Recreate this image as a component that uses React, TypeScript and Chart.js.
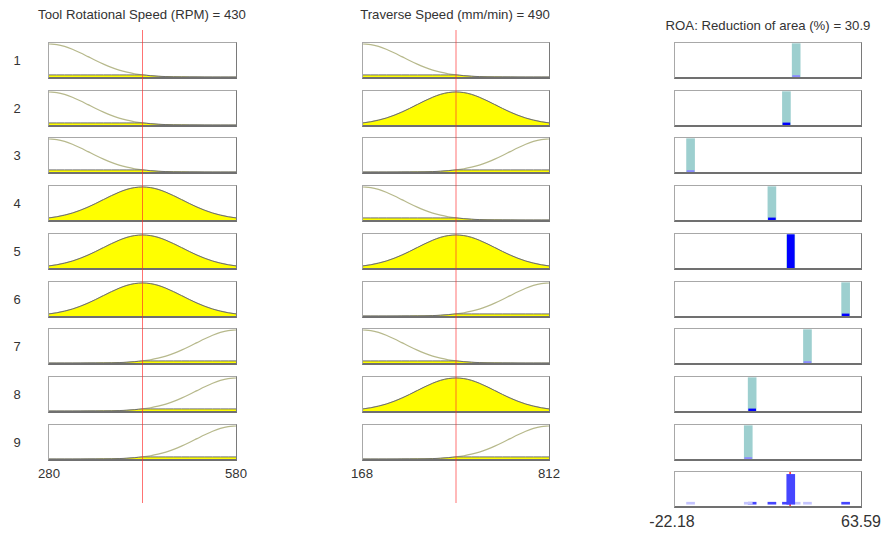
import React, { useEffect, useRef } from "react";
import { Chart, registerables } from "chart.js";
Chart.register(...registerables);

// ---------- data ----------
const RPM_NAME = "Tool Rotational Speed (RPM)";
const TRAV_NAME = "Traverse Speed (mm/min)";
const ROA_NAME = "ROA: Reduction of area (%)";
const RPM_RANGE = [280, 580];
const TRAV_RANGE = [168, 812];
const ROA_RANGE = [-22.18, 63.59];
const RPM_INPUT = 430;
const TRAV_INPUT = 490;
const ROA_OUTPUT = 30.9;
const RPM_TICKS = ["280", "580"];
const TRAV_TICKS = ["168", "812"];
const ROA_TICKS = ["-22.18", "63.59"];

// membership values of the low / mid / high MFs, sampled at 25 evenly spaced points over each input range
const MF_LOW = [1, 0.981, 0.926, 0.841, 0.735, 0.618, 0.5, 0.389, 0.292, 0.21, 0.146, 0.097, 0.0625, 0.039, 0.023, 0.013, 0.007, 0.004, 0.002, 0.001, 0.0005, 0, 0, 0, 0];
const MF_MID = [0.0625, 0.097, 0.146, 0.21, 0.292, 0.389, 0.5, 0.618, 0.735, 0.841, 0.926, 0.981, 1, 0.981, 0.926, 0.841, 0.735, 0.618, 0.5, 0.389, 0.292, 0.21, 0.146, 0.097, 0.0625];
const MF_HIGH = [0, 0, 0, 0, 0.0005, 0.001, 0.002, 0.004, 0.007, 0.013, 0.023, 0.039, 0.0625, 0.097, 0.146, 0.21, 0.292, 0.389, 0.5, 0.618, 0.735, 0.841, 0.926, 0.981, 1];
const MFS = [MF_LOW, MF_MID, MF_HIGH];

// membership degree of the current input in low / mid / high
const RPM_LEVEL = [0.0625, 1, 0.0625];
const TRAV_LEVEL = [0.0625, 1, 0.0625];

// rules
const RULE_NUMBERS = ["1", "2", "3", "4", "5", "6", "7", "8", "9"];
const RULE_RPM = [0, 0, 0, 1, 1, 1, 2, 2, 2];
const RULE_TRAV = [0, 1, 2, 0, 1, 2, 0, 1, 2];
const RULE_OUT = [33.7, 29.2, -15.0, 22.5, 31.2, 56.5, 38.9, 13.4, 11.6];
const RULE_FIRE = [0.004, 0.0625, 0.004, 0.0625, 1, 0.0625, 0.004, 0.0625, 0.004];

// ---------- layout / style ----------
const FONT = '"Liberation Sans", Arial, Helvetica, sans-serif';
const TEXT = "#333";
const ROW_TOP = 42;
const ROW_STEP = 47.7;
const PANEL_H = 37;
const COLS = [
  { left: 48, w: 189 },
  { left: 362, w: 188 },
  { left: 674, w: 188 },
];

function sampleXs(range: number[]) {
  return MF_LOW.map((_, j) => range[0] + ((range[1] - range[0]) * j) / (MF_LOW.length - 1));
}

function baseOptions(range: number[], ymin: number, ymax: number): any {
  return {
    responsive: false,
    animation: false,
    events: [],
    layout: { padding: 0 },
    plugins: { legend: { display: false }, tooltip: { enabled: false }, title: { display: false } },
    scales: {
      x: { type: "linear", min: range[0], max: range[1], display: false, offset: false },
      y: { type: "linear", min: ymin, max: ymax, display: false },
    },
  };
}

function inputConfig(range: number[], mf: number[], level: number): any {
  const xs = sampleXs(range);
  return {
    type: "line",
    data: {
      datasets: [
        {
          data: xs.map((x, j) => ({ x, y: Math.min(mf[j], level) })),
          order: 0,
          fill: "origin",
          backgroundColor: "#ffff00",
          borderColor: "#6e6e6e",
          borderWidth: 1,
          pointRadius: 0,
          cubicInterpolationMode: "monotone",
        },
        {
          data: xs.map((x, j) => ({ x, y: mf[j] })),
          order: 1,
          fill: false,
          borderColor: "#b7b98c",
          borderWidth: 1.2,
          pointRadius: 0,
          cubicInterpolationMode: "monotone",
        },
      ],
    },
    options: baseOptions(range, 0, 1.03),
  };
}

function outputConfig(z: number, w: number): any {
  return {
    type: "bar",
    data: {
      datasets: [
        {
          data: [{ x: z, y: w }],
          order: 0,
          backgroundColor: w < 0.01 ? "#8c8cff" : "#0000ff",
          barThickness: 7,
          minBarLength: 1.5,
          grouped: false,
        },
        {
          data: [{ x: z, y: 1 }],
          order: 1,
          backgroundColor: "#9dcfcf",
          barThickness: 8,
          grouped: false,
        },
      ],
    },
    options: baseOptions(ROA_RANGE, 0, 1.02),
  };
}

function aggregateConfig(): any {
  return {
    type: "bar",
    data: {
      datasets: [
        {
          type: "bar",
          data: RULE_OUT.map((z, i) => ({ x: z, y: RULE_FIRE[i] })),
          order: 0,
          backgroundColor: RULE_FIRE.map((w) => (w < 0.01 ? "#c4c4ff" : "#4646ff")),
          barThickness: 8,
          minBarLength: 2,
          grouped: false,
        },
        {
          type: "line",
          data: [
            { x: ROA_OUTPUT, y: -0.06 },
            { x: ROA_OUTPUT, y: 1.08 },
          ],
          order: 1,
          borderColor: "#ff2020",
          borderWidth: 1.5,
          pointRadius: 0,
          fill: false,
        },
      ],
    },
    options: baseOptions(ROA_RANGE, -0.06, 1.08),
  };
}

function redLineConfig(range: number[], value: number): any {
  return {
    type: "line",
    data: {
      datasets: [
        {
          data: [
            { x: value, y: 0 },
            { x: value, y: 1 },
          ],
          borderColor: "rgba(255,40,40,0.65)",
          borderWidth: 1,
          pointRadius: 0,
          fill: false,
        },
      ],
    },
    options: baseOptions(range, 0, 1),
  };
}

type Spec = { left: number; top: number; w: number; h: number; panel: boolean; make: () => any };

function buildSpecs(): Spec[] {
  const specs: Spec[] = [];
  RULE_NUMBERS.forEach((_, i) => {
    const top = ROW_TOP + ROW_STEP * i;
    const a = RULE_RPM[i];
    const b = RULE_TRAV[i];
    specs.push({ left: COLS[0].left, top, w: COLS[0].w, h: PANEL_H, panel: true, make: () => inputConfig(RPM_RANGE, MFS[a], RPM_LEVEL[a]) });
    specs.push({ left: COLS[1].left, top, w: COLS[1].w, h: PANEL_H, panel: true, make: () => inputConfig(TRAV_RANGE, MFS[b], TRAV_LEVEL[b]) });
    specs.push({ left: COLS[2].left, top, w: COLS[2].w, h: PANEL_H, panel: true, make: () => outputConfig(RULE_OUT[i], RULE_FIRE[i]) });
  });
  specs.push({ left: COLS[2].left, top: ROW_TOP + ROW_STEP * RULE_NUMBERS.length, w: COLS[2].w, h: PANEL_H, panel: true, make: aggregateConfig });
  // red input-value lines spanning all rows
  specs.push({ left: COLS[0].left + 1, top: 30, w: COLS[0].w - 2, h: 473, panel: false, make: () => redLineConfig(RPM_RANGE, RPM_INPUT) });
  specs.push({ left: COLS[1].left + 1, top: 30, w: COLS[1].w - 2, h: 473, panel: false, make: () => redLineConfig(TRAV_RANGE, TRAV_INPUT) });
  return specs;
}

const SPECS = buildSpecs();

function Label(props: { text: string; x: number; y: number; size: number }) {
  return (
    <div
      style={{
        position: "absolute",
        left: props.x,
        top: props.y,
        transform: "translate(-50%, -50%)",
        fontSize: props.size,
        color: TEXT,
        whiteSpace: "nowrap",
        lineHeight: 1,
        fontFamily: FONT,
      }}
    >
      {props.text}
    </div>
  );
}

export default function App() {
  const refs = useRef<(HTMLCanvasElement | null)[]>([]);

  useEffect(() => {
    const charts = SPECS.map((s, i) => new Chart(refs.current[i] as HTMLCanvasElement, s.make()));
    return () => charts.forEach((c) => c.destroy());
  }, []);

  const tickY = ROW_TOP + ROW_STEP * (RULE_NUMBERS.length - 1) + PANEL_H + 13;
  const outTickY = ROW_TOP + ROW_STEP * RULE_NUMBERS.length + PANEL_H + 14;

  return (
    <div style={{ position: "fixed", left: 0, top: 0, width: 886, height: 534, background: "#fff", fontFamily: FONT, overflow: "hidden" }}>
      <Label text={`${RPM_NAME} = ${RPM_INPUT}`} x={142} y={15} size={13.2} />
      <Label text={`${TRAV_NAME} = ${TRAV_INPUT}`} x={455} y={15} size={13.2} />
      <Label text={`${ROA_NAME} = ${ROA_OUTPUT}`} x={768} y={26} size={13.2} />
      {RULE_NUMBERS.map((n, i) => (
        <Label key={n} text={n} x={17} y={ROW_TOP + ROW_STEP * i + 18} size={13} />
      ))}
      <Label text={RPM_TICKS[0]} x={COLS[0].left + 1} y={tickY} size={13.2} />
      <Label text={RPM_TICKS[1]} x={COLS[0].left + COLS[0].w - 1} y={tickY} size={13.2} />
      <Label text={TRAV_TICKS[0]} x={COLS[1].left} y={tickY} size={13.2} />
      <Label text={TRAV_TICKS[1]} x={COLS[1].left + COLS[1].w - 1} y={tickY} size={13.2} />
      <Label text={ROA_TICKS[0]} x={COLS[2].left - 2} y={outTickY} size={16} />
      <Label text={ROA_TICKS[1]} x={COLS[2].left + COLS[2].w - 1} y={outTickY} size={16} />
      {SPECS.map((s, i) =>
        s.panel ? (
          <div
            key={i}
            style={{
              position: "absolute",
              left: s.left,
              top: s.top,
              width: s.w,
              height: s.h,
              boxSizing: "border-box",
              borderTop: "1px solid #a8a8a8",
              borderLeft: "1px solid #a8a8a8",
              borderRight: "1px solid #7a7a7a",
              borderBottom: "2px solid #707070",
              background: "#fff",
            }}
          >
            <canvas
              ref={(el) => {
                refs.current[i] = el;
              }}
              width={s.w - 2}
              height={s.h - 3}
              style={{ display: "block", width: s.w - 2, height: s.h - 3 }}
            />
          </div>
        ) : (
          <canvas
            key={i}
            ref={(el) => {
              refs.current[i] = el;
            }}
            width={s.w}
            height={s.h}
            style={{ position: "absolute", left: s.left, top: s.top, width: s.w, height: s.h, pointerEvents: "none", zIndex: 2 }}
          />
        )
      )}
    </div>
  );
}
